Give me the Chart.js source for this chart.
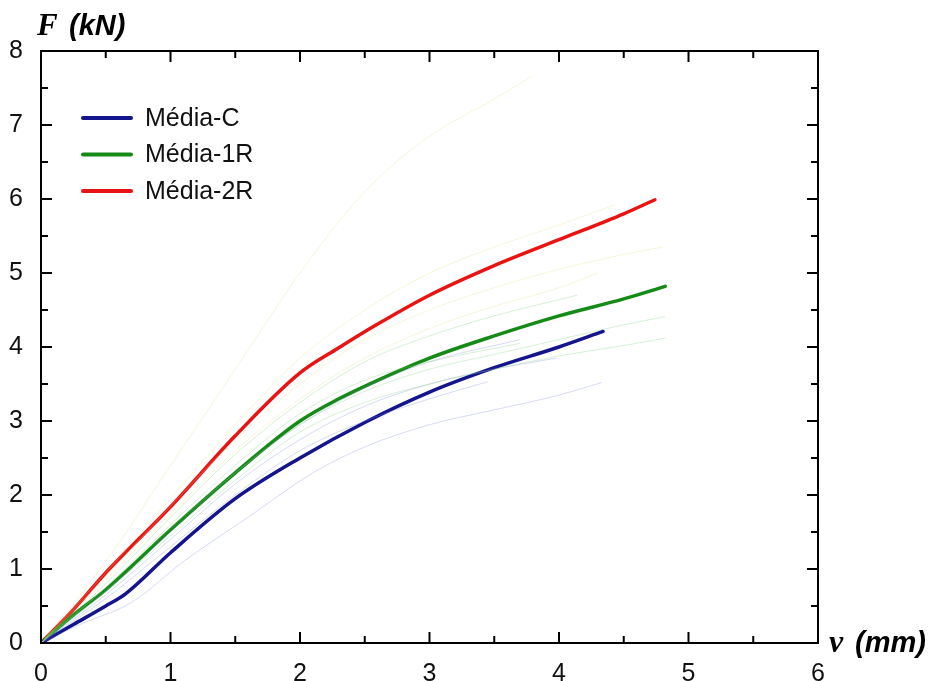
<!DOCTYPE html>
<html>
<head>
<meta charset="utf-8">
<script src="https://cdn.jsdelivr.net/npm/chart.js@4/dist/chart.umd.min.js"></script>
<style>
  html, body { margin: 0; padding: 0; background: #fff; }
  #wrap { width: 936px; height: 681px; position: relative; }
</style>
</head>
<body>
<div id="wrap"><canvas id="c" width="936" height="681"></canvas></div>
<script>
// ---- Data ----
const xTicks = [0, 1, 2, 3, 4, 5, 6];
const yTicks = [0, 1, 2, 3, 4, 5, 6, 7, 8];

// Mean curves
const mediaC_x  = [0, 0.25, 0.5, 0.65, 1.0, 1.5, 2.0, 2.5, 3.0, 3.5, 4.0, 4.34];
const mediaC_y  = [0, 0.25, 0.5, 0.66, 1.22, 1.95, 2.5, 2.98, 3.39, 3.72, 4.0, 4.21];
const media1R_x = [0, 0.25, 0.5, 1.0, 1.5, 2.0, 2.3, 2.6, 3.0, 3.5, 4.0, 4.5, 4.82];
const media1R_y = [0, 0.38, 0.72, 1.53, 2.3, 3.0, 3.3, 3.55, 3.85, 4.15, 4.42, 4.65, 4.82];
const media2R_x = [0, 0.25, 0.5, 1.0, 1.5, 2.0, 2.3, 2.6, 3.0, 3.5, 4.0, 4.5, 4.74];
const media2R_y = [0, 0.45, 0.95, 1.84, 2.8, 3.65, 3.99, 4.31, 4.7, 5.1, 5.45, 5.8, 5.99];

// Individual specimens (faint)
const c1_x = [0, 0.3, 0.7, 1.1, 1.6, 2.1, 2.5, 3.0, 3.5, 4.0, 4.33];
const c1_y = [0, 0.25, 0.55, 1.1, 1.7, 2.3, 2.65, 2.95, 3.15, 3.35, 3.52];
const c2_x = [0, 0.5, 1.0, 1.5, 2.0, 2.5, 3.0, 3.45];
const c2_y = [0, 0.6, 1.3, 2.0, 2.6, 3.0, 3.3, 3.53];
const c3_x = [0, 0.5, 1.0, 1.5, 2.0, 2.5, 3.0, 3.5, 3.98];
const c3_y = [0, 0.65, 1.4, 2.15, 2.75, 3.2, 3.5, 3.7, 3.85];
const c4_x = [0, 0.5, 1.0, 1.5, 2.0, 2.5, 3.0, 3.7];
const c4_y = [0, 0.7, 1.5, 2.3, 2.95, 3.45, 3.8, 4.1];

const g1_x = [0, 0.5, 1, 1.5, 2, 2.5, 3, 3.5, 4, 4.5, 4.82];
const g1_y = [0, 0.75, 1.55, 2.3, 2.95, 3.4, 3.7, 3.9, 4.1, 4.3, 4.41];
const g2_x = [0, 0.5, 1, 1.5, 2, 2.5, 3, 3.5, 4, 4.5, 4.82];
const g2_y = [0, 0.7, 1.45, 2.2, 2.85, 3.25, 3.5, 3.7, 3.88, 4.02, 4.12];
const g3_x = [0, 0.5, 1, 1.5, 2, 2.5, 3, 3.5, 4.14];
const g3_y = [0, 0.8, 1.7, 2.55, 3.25, 3.8, 4.15, 4.42, 4.7];
const g4_x = [0, 0.5, 1, 1.5, 2, 2.5, 3, 3.7];
const g4_y = [0, 0.75, 1.6, 2.4, 3.1, 3.55, 3.8, 4.05];

const y1_x = [0, 0.5, 1, 1.5, 2, 2.5, 3, 3.5, 3.79];
const y1_y = [0, 1.1, 2.4, 3.7, 5.0, 6.1, 6.85, 7.35, 7.66];
const y2_x = [0, 0.5, 1, 1.5, 2, 2.5, 3, 3.5, 4, 4.43];
const y2_y = [0, 0.95, 1.95, 2.95, 3.85, 4.5, 5.0, 5.35, 5.65, 5.92];
const y3_x = [0, 0.5, 1, 1.5, 2, 2.5, 3, 3.5, 4, 4.5, 4.8];
const y3_y = [0, 0.9, 1.85, 2.75, 3.5, 4.1, 4.5, 4.8, 5.05, 5.25, 5.35];
const y4_x = [0, 0.5, 1, 1.5, 2, 2.5, 3, 3.5, 4, 4.3];
const y4_y = [0, 0.85, 1.75, 2.6, 3.3, 3.85, 4.25, 4.55, 4.8, 5.0];

// ---- Helpers ----
const pts = (xs, ys) => xs.map((x, i) => ({ x: x, y: ys[i] }));
const faint = (xs, ys, color) => ({
  label: '', data: pts(xs, ys), borderColor: color, borderWidth: 1,
  pointRadius: 0, fill: false, cubicInterpolationMode: 'monotone', faint: true
});
const main = (label, xs, ys, color) => ({
  label: label, data: pts(xs, ys), borderColor: color, borderWidth: 3.5,
  pointRadius: 0, fill: false, cubicInterpolationMode: 'monotone', borderCapStyle: 'round'
});

const paleBlue = 'rgba(120,135,215,0.3)';
const paleGreen = 'rgba(120,205,120,0.3)';
const paleYellow = 'rgba(225,225,130,0.3)';

const datasets = [
  faint(y1_x, y1_y, paleYellow), faint(y2_x, y2_y, paleYellow),
  faint(y3_x, y3_y, paleYellow), faint(y4_x, y4_y, paleYellow),
  faint(g1_x, g1_y, paleGreen), faint(g2_x, g2_y, paleGreen),
  faint(g3_x, g3_y, paleGreen), faint(g4_x, g4_y, paleGreen),
  faint(c1_x, c1_y, paleBlue), faint(c2_x, c2_y, paleBlue),
  faint(c3_x, c3_y, paleBlue), faint(c4_x, c4_y, paleBlue),
  main('Média-C', mediaC_x, mediaC_y, '#14148c'),
  main('Média-1R', media1R_x, media1R_y, '#168a16'),
  main('Média-2R', media2R_x, media2R_y, '#e81414')
];

// ---- Plugin: frame, inward ticks, axis titles, legend ----
const decor = {
  id: 'decor',
  afterDatasetsDraw(chart) {
    const ctx = chart.ctx;
    const a = chart.chartArea;
    const xs = chart.scales.x, ys = chart.scales.y;
    ctx.save();
    ctx.strokeStyle = '#000';
    ctx.lineWidth = 2;
    ctx.beginPath();
    ctx.rect(a.left, a.top, a.right - a.left, a.bottom - a.top);
    ctx.stroke();
    const maj = 11, min = 7;
    ctx.beginPath();
    for (let v = 0; v <= 6; v += 0.5) {
      const px = xs.getPixelForValue(v);
      const L = Number.isInteger(v) ? maj : min;
      ctx.moveTo(px, a.bottom); ctx.lineTo(px, a.bottom - L);
      ctx.moveTo(px, a.top); ctx.lineTo(px, a.top + L);
    }
    for (let v = 0; v <= 8; v += 0.5) {
      const py = ys.getPixelForValue(v);
      const L = Number.isInteger(v) ? maj : min;
      ctx.moveTo(a.left, py); ctx.lineTo(a.left + L, py);
      ctx.moveTo(a.right, py); ctx.lineTo(a.right - L, py);
    }
    ctx.stroke();

    // Axis titles
    ctx.fillStyle = '#000';
    ctx.textBaseline = 'alphabetic';
    ctx.textAlign = 'left';
    ctx.font = 'bold italic 31px "Liberation Serif"';
    ctx.fillText('F', 37, 35);
    ctx.font = 'bold italic 29px "Liberation Sans"';
    ctx.fillText('(kN)', 69, 35);
    ctx.font = 'bold italic 32px "Liberation Serif"';
    ctx.fillText('ν', 829, 652);
    ctx.font = 'bold italic 29px "Liberation Sans"';
    ctx.fillText('(mm)', 855, 652);

    // Legend
    const mains = chart.data.datasets.filter(d => !d.faint);
    ctx.textBaseline = 'middle';
    ctx.font = '25px "Liberation Sans"';
    mains.forEach((d, i) => {
      const y = 118 + i * 36.5;
      ctx.strokeStyle = d.borderColor;
      ctx.lineWidth = 4;
      ctx.lineCap = 'round';
      ctx.beginPath(); ctx.moveTo(83, y); ctx.lineTo(131, y); ctx.stroke();
      ctx.fillStyle = '#111';
      ctx.fillText(d.label, 145, y + 1);
    });
    ctx.restore();
  }
};

new Chart(document.getElementById('c'), {
  type: 'line',
  data: { datasets: datasets },
  plugins: [decor],
  options: {
    responsive: false,
    animation: false,
    layout: { padding: { left: 0, right: 118, top: 51, bottom: 0 } },
    plugins: { legend: { display: false }, tooltip: { enabled: false } },
    scales: {
      x: {
        type: 'linear', min: 0, max: 6,
        afterBuildTicks: s => { s.ticks = xTicks.map(v => ({ value: v })); },
        afterFit: s => { s.height = 38; },
        grid: { display: false },
        border: { display: false },
        ticks: { color: '#111', font: { family: 'Liberation Sans', size: 25 }, padding: 8, maxRotation: 0 }
      },
      y: {
        type: 'linear', min: 0, max: 8,
        afterBuildTicks: s => { s.ticks = yTicks.map(v => ({ value: v })); },
        afterFit: s => { s.width = 41; },
        grid: { display: false },
        border: { display: false },
        ticks: { color: '#111', font: { family: 'Liberation Sans', size: 25 }, padding: 10 }
      }
    }
  }
});
</script>
</body>
</html>
